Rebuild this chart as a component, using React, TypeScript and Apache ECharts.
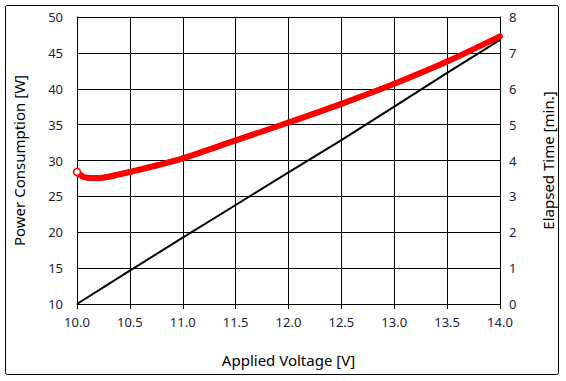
import React, { useEffect, useRef } from "react";
import * as echarts from "echarts";

const voltage: number[] = [10.0, 10.05, 10.1, 10.2, 10.3, 10.5, 10.75, 11.0, 11.5, 12.0, 12.5, 13.0, 13.5, 14.0];
const power: number[] = [28.4, 27.8, 27.6, 27.55, 27.75, 28.4, 29.3, 30.3, 32.8, 35.3, 37.9, 40.7, 43.8, 47.3];

const timeVoltage: number[] = [10.0, 10.5, 11.0, 11.5, 12.0, 12.5, 13.0, 13.5, 14.0];
const elapsed: number[] = [0, 0.93, 1.85, 2.76, 3.67, 4.57, 5.5, 6.44, 7.36];

const xTitle = "Applied Voltage [V]";
const yLeftTitle = "Power Consumption [W]";
const yRightTitle = "Elapsed Time [min.]";

const FONT = "Noto Sans";
const LABEL_COLOR = "#1c1c3a";

export default function App() {
  const ref = useRef<HTMLDivElement>(null);
  useEffect(() => {
    if (!ref.current) return;
    const chart = echarts.init(ref.current, null, { renderer: "svg" });
    const powerData = voltage.map((v, i) =>
      i === 0
        ? {
            value: [v, power[i]],
            symbol: "circle",
            symbolSize: 7,
            itemStyle: { color: "#ffffff", borderColor: "#ff0000", borderWidth: 1.5 },
          }
        : { value: [v, power[i]] }
    );
    chart.setOption({
      animation: false,
      graphic: [
        {
          type: "rect",
          shape: { x: 5.5, y: 5.5, width: 553, height: 369, r: 2 },
          style: { fill: "none", stroke: "#000", lineWidth: 1 },
          silent: true,
          z: 100,
        },
      ],
      grid: { left: 77, right: 66, top: 17, bottom: 77 },
      xAxis: {
        type: "value",
        min: 10,
        max: 14,
        interval: 0.5,
        name: xTitle,
        nameLocation: "middle",
        nameGap: 48,
        nameTextStyle: { fontFamily: FONT, fontSize: 15, color: "#000" },
        axisLine: { show: true, lineStyle: { color: "#000", width: 1 } },
        axisTick: { show: true, inside: false, length: 5, lineStyle: { color: "#000" } },
        axisLabel: {
          fontFamily: FONT,
          fontSize: 13,
          color: LABEL_COLOR,
          margin: 11,
          formatter: (v: number) => v.toFixed(1),
        },
        splitLine: { show: true, lineStyle: { color: "#000", width: 1 } },
      },
      yAxis: [
        {
          type: "value",
          min: 10,
          max: 50,
          interval: 5,
          name: yLeftTitle,
          nameLocation: "middle",
          nameGap: 51,
          nameTextStyle: { fontFamily: FONT, fontSize: 15, color: "#000" },
          axisLine: { show: true, lineStyle: { color: "#000", width: 1 } },
          axisTick: { show: false },
          axisLabel: { fontFamily: FONT, fontSize: 13, color: LABEL_COLOR, margin: 14 },
          splitLine: { show: true, lineStyle: { color: "#000", width: 1 } },
        },
        {
          type: "value",
          min: 0,
          max: 8,
          interval: 1,
          position: "right",
          name: yRightTitle,
          nameLocation: "middle",
          nameGap: 40,
          nameRotate: 90,
          nameTextStyle: { fontFamily: FONT, fontSize: 15, color: "#000" },
          axisLine: { show: true, lineStyle: { color: "#000", width: 1 } },
          axisTick: { show: false },
          axisLabel: { fontFamily: FONT, fontSize: 13, color: LABEL_COLOR, margin: 9 },
          splitLine: { show: false },
        },
      ],
      series: [
        {
          type: "line",
          name: "Elapsed Time",
          yAxisIndex: 1,
          data: timeVoltage.map((v, i) => [v, elapsed[i]]),
          showSymbol: false,
          symbol: "none",
          lineStyle: { color: "#000", width: 2 },
          z: 2,
        },
        {
          type: "line",
          name: "Power",
          yAxisIndex: 0,
          data: powerData,
          smooth: 0.3,
          showSymbol: true,
          symbol: "circle",
          symbolSize: 6,
          itemStyle: { color: "#ff0000" },
          lineStyle: { color: "#ff0000", width: 6 },
          z: 3,
        },
      ],
    });
    return () => chart.dispose();
  }, []);
  return (
    <div
      ref={ref}
      style={{ position: "fixed", left: 0, top: 0, width: 566, height: 381, background: "#fff" }}
    />
  );
}
